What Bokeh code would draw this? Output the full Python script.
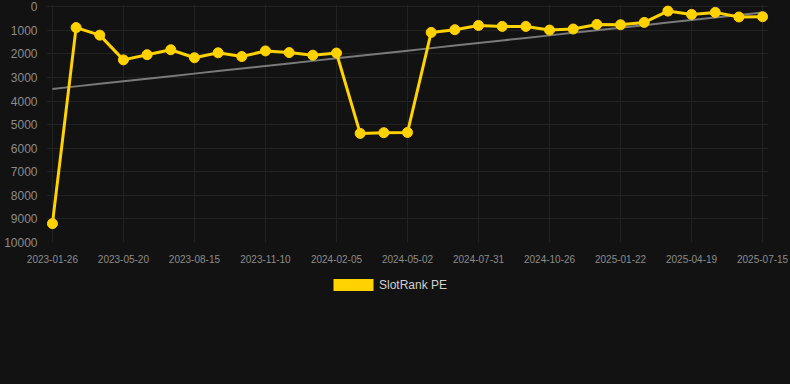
import numpy as np
from bokeh.plotting import figure
from bokeh.layouts import column
from bokeh.models import Range1d, FixedTicker, Legend, LegendItem, ColumnDataSource
from bokeh.embed import file_html
from bokeh.resources import INLINE

dates = ["2023-01-26", "2023-03-03", "2023-04-11", "2023-05-20", "2023-06-18", "2023-07-17",
         "2023-08-15", "2023-09-13", "2023-10-12", "2023-11-10", "2023-12-09", "2024-01-07",
         "2024-02-05", "2024-03-04", "2024-04-03", "2024-05-02", "2024-06-01", "2024-07-01",
         "2024-07-31", "2024-08-29", "2024-09-27", "2024-10-26", "2024-11-24", "2024-12-23",
         "2025-01-22", "2025-02-20", "2025-03-21", "2025-04-19", "2025-05-18", "2025-06-16",
         "2025-07-15"]
rank = [9200, 880, 1200, 2250, 2030, 1820, 2160, 1950, 2110, 1870, 1940, 2050, 1960,
        5370, 5340, 5330, 1085, 970, 790, 830, 830, 985, 940, 745, 760, 660, 180, 320,
        235, 430, 420]
series_name = "SlotRank PE"
y_ticks = list(range(0, 10001, 1000))

idx = list(range(len(dates)))
slope, intercept = np.polyfit(idx, rank, 1)
trend = [slope * i + intercept for i in idx]

BG = "#121212"
YELLOW = "#FFD200"

p = figure(width=790, height=270, output_backend="svg", toolbar_location=None,
           x_range=Range1d(-0.25, 30.25), y_range=Range1d(10000, -100),
           background_fill_color=BG, border_fill_color=BG,
           min_border_left=46, min_border_right=22, min_border_top=4, min_border_bottom=28,
           margin=(0, 0, 0, 0))
p.outline_line_color = None
p.styles = {"background-color": BG}

src = ColumnDataSource(dict(x=idx, y=rank, t=trend))
p.line("x", "t", source=src, line_color="#7a7a7a", line_width=2)
p.line("x", "y", source=src, line_color=YELLOW, line_width=3)
p.scatter("x", "y", source=src, size=10, fill_color=YELLOW, line_color=YELLOW)

p.xaxis.ticker = FixedTicker(ticks=idx[::3])
p.xaxis.major_label_overrides = {i: dates[i] for i in idx}
p.yaxis.ticker = FixedTicker(ticks=y_ticks)
for ax in (p.xaxis, p.yaxis):
    ax.axis_line_color = None
    ax.major_tick_line_color = None
    ax.minor_tick_line_color = None
    ax.major_label_text_font = "Liberation Sans"
    ax.major_label_text_color = "#8c8c8c"
p.xaxis.major_label_text_font_size = "10px"
p.yaxis.major_label_text_font_size = "12px"
p.xaxis.major_label_standoff = 6
p.yaxis.major_label_standoff = 3
p.yaxis.formatter.use_scientific = False

p.xgrid.ticker = FixedTicker(ticks=idx[::3])
p.ygrid.ticker = FixedTicker(ticks=y_ticks)
p.grid.grid_line_color = "#222222"
p.grid.grid_line_width = 1

# legend strip (its swatch renderer sits outside the visible range)
q = figure(width=790, height=114, output_backend="svg", toolbar_location=None,
           x_axis_location=None, y_axis_location=None,
           x_range=Range1d(0, 1), y_range=Range1d(0, 1),
           background_fill_color=BG, border_fill_color=BG,
           min_border=0, margin=(0, 0, 0, 0))
q.outline_line_color = None
q.grid.visible = False
q.styles = {"background-color": BG}
dummy = q.quad(left=[-3], right=[-2], top=[-2], bottom=[-3], fill_color=YELLOW, line_color=None)

legend = Legend(items=[LegendItem(label=series_name, renderers=[dummy])],
                location=(282, 92), orientation="horizontal",
                glyph_width=50, glyph_height=15, label_standoff=1, padding=0, margin=0,
                spacing=0, background_fill_alpha=0, border_line_color=None,
                label_text_font="Liberation Sans", label_text_font_size="12px",
                label_text_color="#d0d0d0", label_height=15)
q.add_layout(legend, "center")

layout = column(p, q, spacing=0, styles={"background-color": BG})
open("out.html", "w").write(file_html(layout, INLINE))
